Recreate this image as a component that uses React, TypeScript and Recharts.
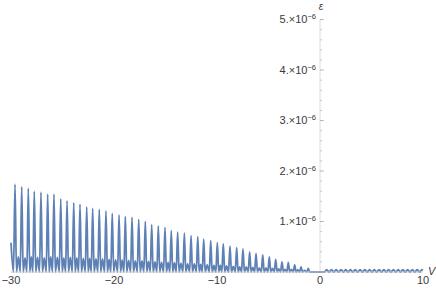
import { Line, LineChart, ReferenceDot, ReferenceLine, XAxis, YAxis } from 'recharts';

// epsilon values are in units of 1e-6

// main spikes (V, eps)
const peaks: [number, number][] = [
    [-29.61, 1.74], [-28.96, 1.69], [-28.32, 1.66], [-27.74, 1.6], [-27.09, 1.58], [-26.44, 1.54],
    [-25.83, 1.54], [-25.17, 1.45], [-24.56, 1.41], [-23.91, 1.37], [-23.3, 1.34], [-22.65, 1.29],
    [-22.07, 1.26], [-21.43, 1.24], [-20.78, 1.21], [-20.17, 1.16], [-19.51, 1.13], [-18.9, 1.1],
    [-18.25, 1.08], [-17.6, 1.04], [-16.96, 1.0], [-16.34, 0.94], [-15.7, 0.91], [-15.05, 0.88],
    [-14.44, 0.82], [-13.82, 0.79], [-13.17, 0.77], [-12.52, 0.72], [-11.87, 0.7], [-11.29, 0.65],
    [-10.61, 0.62], [-9.97, 0.58], [-9.39, 0.56], [-8.74, 0.51], [-8.09, 0.48], [-7.48, 0.46],
    [-6.83, 0.4], [-6.21, 0.37], [-5.56, 0.34], [-4.92, 0.3], [-4.3, 0.25], [-3.69, 0.2],
    [-3.08, 0.19], [-2.46, 0.14], [-1.84, 0.1], [-1.14, 0.07],
];

// small humps between the spikes
const bumps: [number, number][] = [
    [-30, 0.58], [-29.29, 0.3], [-28.64, 0.28], [-28.03, 0.3], [-27.42, 0.29], [-26.77, 0.28],
    [-26.14, 0.3], [-25.5, 0.29], [-24.87, 0.28], [-24.24, 0.29], [-23.61, 0.28], [-22.98, 0.27],
    [-22.36, 0.27], [-21.75, 0.26], [-21.11, 0.26], [-20.48, 0.25], [-19.84, 0.24], [-19.21, 0.24],
    [-18.58, 0.23], [-17.93, 0.22], [-17.28, 0.22], [-16.65, 0.21], [-16.02, 0.2], [-15.38, 0.19],
    [-14.75, 0.19], [-14.13, 0.18], [-13.5, 0.17], [-12.85, 0.16], [-12.2, 0.16], [-11.58, 0.15],
    [-10.95, 0.14], [-10.29, 0.13], [-9.68, 0.13], [-9.07, 0.12], [-8.42, 0.11], [-7.79, 0.1],
    [-7.16, 0.1], [-6.52, 0.09], [-5.89, 0.08], [-5.24, 0.08], [-4.61, 0.07], [-4.0, 0.06],
    [-3.39, 0.05], [-2.77, 0.05], [-2.15, 0.04], [-1.49, 0.03],
];

// V where the curve touches zero
const zeros: number[] = [
    -29.76, -29.47, -29.1, -28.82, -28.46, -28.18, -27.88, -27.6, -27.23, -26.95, -26.58,
    -26.3, -25.97, -25.69, -25.31, -25.03, -24.7, -24.42, -24.05, -23.77, -23.44, -23.16,
    -22.79, -22.51, -22.21, -21.93, -21.57, -21.29, -20.92, -20.64, -20.31, -20.03, -19.65,
    -19.37, -19.04, -18.76, -18.39, -18.11, -17.74, -17.46, -17.1, -16.82, -16.48, -16.2,
    -15.84, -15.56, -15.19, -14.91, -14.58, -14.3, -13.96, -13.68, -13.31, -13.03, -12.66,
    -12.38, -12.01, -11.73, -11.43, -11.15, -10.75, -10.47, -10.11, -9.83, -9.53, -9.25,
    -8.88, -8.6, -8.23, -7.95, -7.62, -7.34, -6.97, -6.69, -6.35, -6.07, -5.7, -5.42,
    -5.06, -4.78, -4.44, -4.16, -3.83, -3.55, -3.22, -2.94, -2.6, -2.32, -1.98, -1.7,
    -1.28, -1.0, 0, 0.42,
];

// ripple for V > 0
const ripple: [number, number][] = [
    [0.65, 0.045], [0.88, 0], [1.11, 0.045], [1.34, 0], [1.57, 0.045], [1.8, 0], [2.04, 0.045],
    [2.27, 0], [2.5, 0.045], [2.73, 0], [2.96, 0.045], [3.19, 0], [3.42, 0.045], [3.65, 0],
    [3.89, 0.045], [4.12, 0], [4.35, 0.045], [4.58, 0], [4.81, 0.045], [5.04, 0], [5.27, 0.045],
    [5.5, 0], [5.74, 0.045], [5.97, 0], [6.2, 0.045], [6.43, 0], [6.66, 0.045], [6.89, 0],
    [7.12, 0.045], [7.35, 0], [7.59, 0.045], [7.82, 0], [8.05, 0.045], [8.28, 0], [8.51, 0.045],
    [8.74, 0], [8.97, 0.045], [9.2, 0], [9.44, 0.045], [9.67, 0], [9.9, 0.045], [10, 0.04],
];

const xTicks = [-30, -20, -10, 0, 10];
const yTicks = [1, 2, 3, 4, 5];
const yMinorTicks = [
    0.2, 0.4, 0.6, 0.8, 1.2, 1.4, 1.6, 1.8, 2.2, 2.4, 2.6, 2.8, 3.2, 3.4, 3.6, 3.8, 4.2, 4.4, 4.6,
    4.8,
];

const data = [...peaks, ...bumps, ...zeros.map((v) => [v, 0] as [number, number]), ...ripple]
    .map(([v, e]) => ({ v, e }))
    .sort((a, b) => a.v - b.v);

const textColor = '#3a3a3a';
const axisColor = '#c8c8c8';

function YTickText(props: any) {
    const { viewBox, n } = props;
    return (
        <text x={viewBox.x - 4} y={viewBox.y} dy="0.35em" textAnchor="end" fontSize={11} fill={textColor}>
            {n}.×10
            <tspan dy={-4} fontSize={7.5}>−6</tspan>
        </text>
    );
}

export default function App() {
    return (
        <div style={{ position: 'absolute', left: 0, top: 0, fontFamily: 'Liberation Sans, Arial, sans-serif' }}>
            <LineChart width={436} height={290} data={data} margin={{ top: 8, right: 13, left: 11, bottom: 0 }}>
                <XAxis
                    type="number"
                    dataKey="v"
                    domain={[-30, 10]}
                    ticks={xTicks}
                    height={18}
                    tickLine={false}
                    tickSize={2}
                    tickMargin={2}
                    axisLine={{ stroke: axisColor }}
                    tick={{ fill: textColor, fontSize: 11 }}
                    tickFormatter={(v: number) => String(v).replace('-', '−')}
                />
                <YAxis type="number" domain={[0, 5.23]} hide />
                <ReferenceLine segment={[{ x: 0, y: 0 }, { x: 0, y: 5 }]} stroke="#dcdcdc" />
                {yMinorTicks.map((n) => (
                    <ReferenceLine key={'m' + n} segment={[{ x: 0, y: n }, { x: 0.2, y: n }]} stroke={axisColor} />
                ))}
                {yTicks.map((n) => (
                    <ReferenceLine key={'t' + n} segment={[{ x: 0, y: n }, { x: 0.35, y: n }]} stroke="#b0b0b0" />
                ))}
                {yTicks.map((n) => (
                    <ReferenceDot
                        key={'l' + n}
                        x={0}
                        y={n}
                        r={0}
                        fill="none"
                        stroke="none"
                        ifOverflow="visible"
                        label={(p: any) => <YTickText {...p} n={n} />}
                    />
                ))}
                <ReferenceDot
                    x={0}
                    y={5}
                    r={0}
                    fill="none"
                    stroke="none"
                    ifOverflow="visible"
                    label={(p: any) => (
                        <text x={p.viewBox.x + 1} y={p.viewBox.y - 10} textAnchor="middle" fontSize={10} fontStyle="italic" fill={textColor}>
                            ε
                        </text>
                    )}
                />
                <ReferenceDot
                    x={10}
                    y={0}
                    r={0}
                    fill="none"
                    stroke="none"
                    ifOverflow="visible"
                    label={(p: any) => (
                        <text x={p.viewBox.x + 5} y={p.viewBox.y + 3} fontSize={11} fontStyle="italic" fill={textColor}>
                            V
                        </text>
                    )}
                />
                <Line
                    type="monotoneX"
                    dataKey="e"
                    stroke="#5E81B5"
                    strokeWidth={1.8}
                    dot={false}
                    isAnimationActive={false}
                />
            </LineChart>
        </div>
    );
}
